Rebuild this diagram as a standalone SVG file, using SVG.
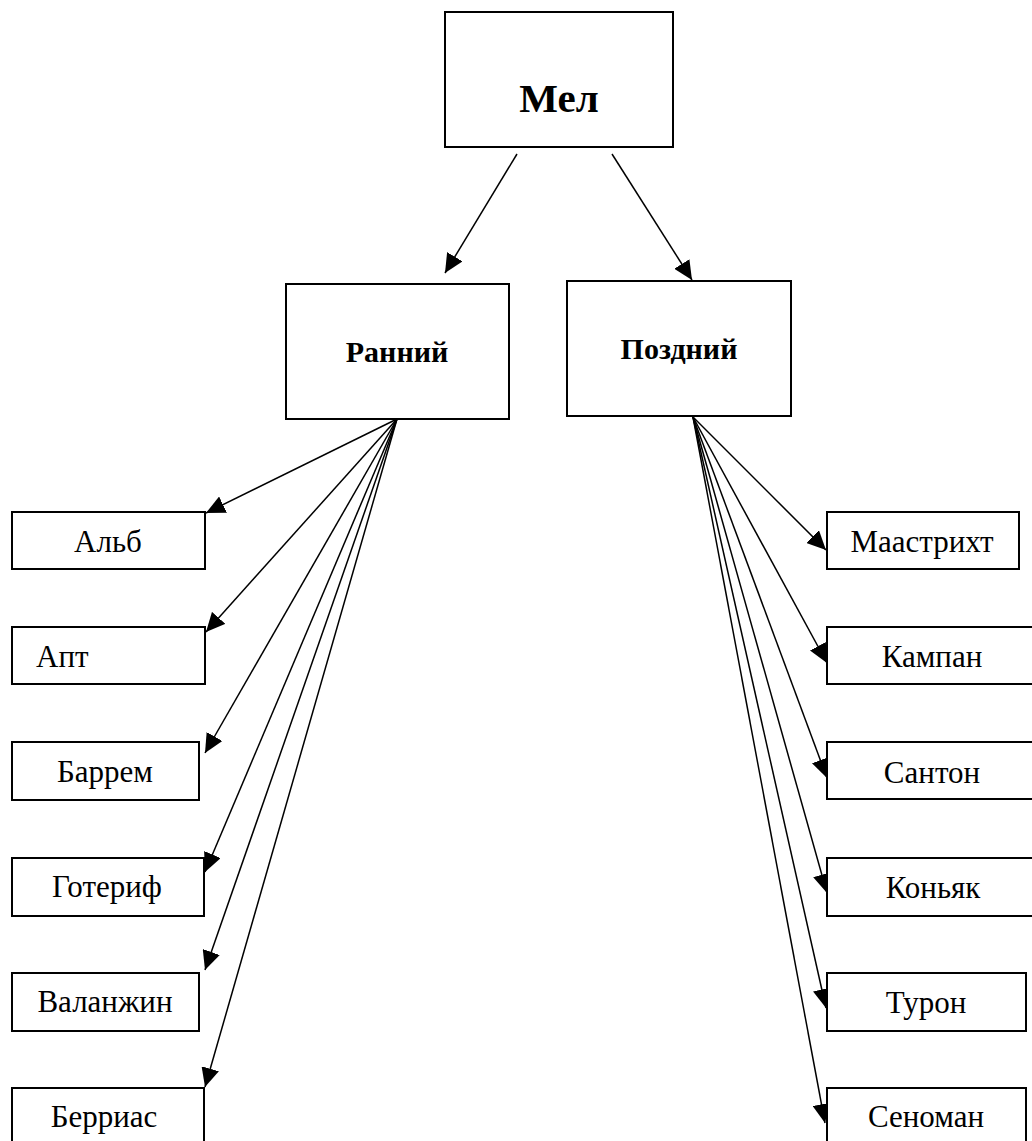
<svg xmlns="http://www.w3.org/2000/svg" width="1032" height="1141" viewBox="0 0 1032 1141">
<style>
.box{fill:#fff;stroke:#000;stroke-width:2}
.t{font-family:"Liberation Serif","Times New Roman",serif;fill:#000;text-anchor:middle}
.s{font-size:31px}
.b{font-weight:bold}
.c line{stroke:#000;stroke-width:1.5;marker-end:url(#ah)}
</style>
<defs>
<marker id="ah" viewBox="0 0 19 18" refX="19" refY="9" markerWidth="19" markerHeight="18" markerUnits="userSpaceOnUse" orient="auto">
<path d="M0,0 L19,9 L0,18 z" fill="#000"/>
</marker>
</defs>
<rect width="1032" height="1141" fill="#fff"/>
<g id="connectors" class="c">
<line x1="517" y1="154" x2="445" y2="273"/>
<line x1="612" y1="154" x2="692" y2="280"/>
<line x1="397" y1="419" x2="206" y2="513"/>
<line x1="397" y1="419" x2="206" y2="632"/>
<line x1="397" y1="419" x2="205" y2="753"/>
<line x1="397" y1="419" x2="205" y2="872"/>
<line x1="397" y1="419" x2="205" y2="970"/>
<line x1="397" y1="419" x2="205" y2="1087"/>
<line x1="693" y1="417" x2="826" y2="550"/>
<line x1="693" y1="417" x2="827" y2="663"/>
<line x1="693" y1="417" x2="827" y2="778"/>
<line x1="693" y1="417" x2="827" y2="893"/>
<line x1="693" y1="417" x2="826" y2="1008"/>
<line x1="693" y1="417" x2="825" y2="1123"/>
</g>
<g id="mel"><rect class="box" x="445" y="12" width="228" height="135"/><text class="t b" x="559" y="112" font-size="41">Мел</text></g>
<g id="rannij"><rect class="box" x="286" y="284" width="223" height="135"/><text class="t b" x="397" y="362" font-size="30">Ранний</text></g>
<g id="pozdnij"><rect class="box" x="567" y="281" width="224" height="135"/><text class="t b" x="679" y="359" font-size="30">Поздний</text></g>
<g id="alb"><rect class="box" x="12" y="512" width="193" height="57"/><text class="t s" x="108" y="552">Альб</text></g>
<g id="apt"><rect class="box" x="12" y="627" width="193" height="57"/><text class="t s" x="36" y="667" style="text-anchor:start">Апт</text></g>
<g id="barrem"><rect class="box" x="12" y="742" width="187" height="58"/><text class="t s" x="105" y="782">Баррем</text></g>
<g id="goterif"><rect class="box" x="12" y="858" width="192" height="58"/><text class="t s" x="107" y="897">Готериф</text></g>
<g id="valanzhin"><rect class="box" x="12" y="973" width="187" height="58"/><text class="t s" x="105" y="1012">Валанжин</text></g>
<g id="berrias"><rect class="box" x="12" y="1088" width="192" height="60"/><text class="t s" x="104" y="1127">Берриас</text></g>
<g id="maastriht"><rect class="box" x="827" y="512" width="192" height="57"/><text class="t s" x="922" y="552">Маастрихт</text></g>
<g id="kampan"><rect class="box" x="827" y="627" width="210" height="57"/><text class="t s" x="932" y="667">Кампан</text></g>
<g id="santon"><rect class="box" x="827" y="742" width="210" height="57"/><text class="t s" x="932" y="783">Сантон</text></g>
<g id="konjak"><rect class="box" x="827" y="858" width="210" height="58"/><text class="t s" x="933" y="898">Коньяк</text></g>
<g id="turon"><rect class="box" x="827" y="973" width="199" height="58"/><text class="t s" x="926" y="1013">Турон</text></g>
<g id="senoman"><rect class="box" x="827" y="1088" width="199" height="60"/><text class="t s" x="926" y="1127">Сеноман</text></g>
</svg>
